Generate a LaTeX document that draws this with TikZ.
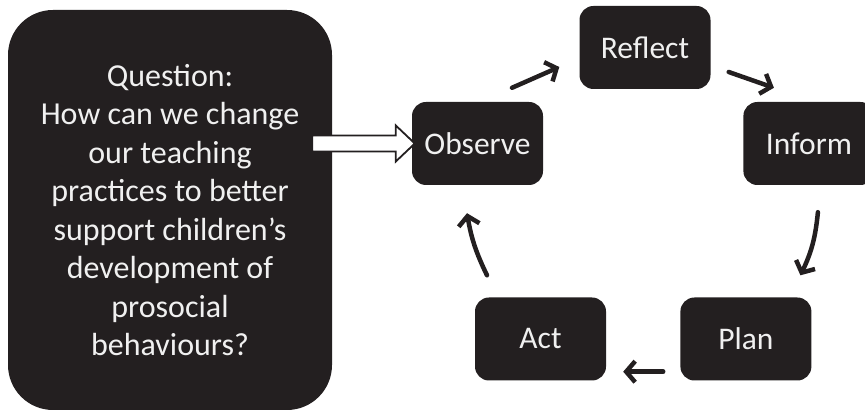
\documentclass[tikz,border=0pt]{standalone}
\usepackage{fontspec}
\setmainfont{Carlito}
\usepackage{tikz}
\usetikzlibrary{calc,arrows.meta,positioning}
\definecolor{boxblack}{HTML}{231F20}
\definecolor{boxtext}{HTML}{F0F0F0}

\begin{document}
\begin{tikzpicture}[x=1pt,y=1pt,
  stage/.style={fill=boxblack,rounded corners=14pt,minimum width=131pt,minimum height=83pt,
    inner sep=0pt,text=boxtext,font=\fontsize{31.5}{38}\selectfont},
  cycarrow/.style={line width=4.5pt,line cap=round,draw=boxblack,
    -{Straight Barb[length=9pt,width=21pt]}},
  blockarrow/.style={line width=1.8pt,draw=boxblack,fill=white,line join=miter}]
\useasboundingbox (0,0) rectangle (865,412);
\node[fill=boxblack,rounded corners=45pt,minimum width=324pt,minimum height=400pt,
  text=boxtext,align=center,font=\fontsize{32}{38.5}\selectfont] (question) at (170,202)
{Question:\\How can we change\\our teaching\\practices to better\\support children’s\\development of\\prosocial\\behaviours?};
\node[stage] (observe) at (477.5,268.5) {Observe};
\node[stage] (reflect) at (645,364.5) {Reflect};
\node[stage] (inform) [right=200pt of observe] {Inform};
\node[stage] (act) at (540.5,73) {Act};
\node[stage] (plan) [right=74pt of act] {Plan};
\path (question.east |- observe.west) coordinate (qtail);
\draw[blockarrow] ($(qtail)+(-20,8)$) -- ($(observe.west)+(-16,8)$) -- ($(observe.west)+(-16,18)$)
  -- ($(observe.west)+(3,0)$) -- ($(observe.west)+(-16,-18)$) -- ($(observe.west)+(-16,-8)$)
  -- ($(qtail)+(-20,-8)$) -- cycle;
\draw[cycarrow] ([shift={(34.5,14)}]observe.north) -- ([shift={(-20,-19.5)}]reflect.west);
\draw[cycarrow] ([shift={(18,-24.5)}]reflect.east) -- ([shift={(-35,14)}]inform.north);
\draw[cycarrow] ([shift={(9,-27)}]inform.south) to[bend left=10] ([shift={(54.5,22)}]plan.north);
\draw[cycarrow] ([shift={(-17,9)}]plan.south west) -- ([shift={(17,9)}]act.south east);
\draw[cycarrow] ([shift={(-53.5,22)}]act.north) to[bend left=8] ([shift={(-10.5,-28)}]observe.south);
\end{tikzpicture}
\end{document}
